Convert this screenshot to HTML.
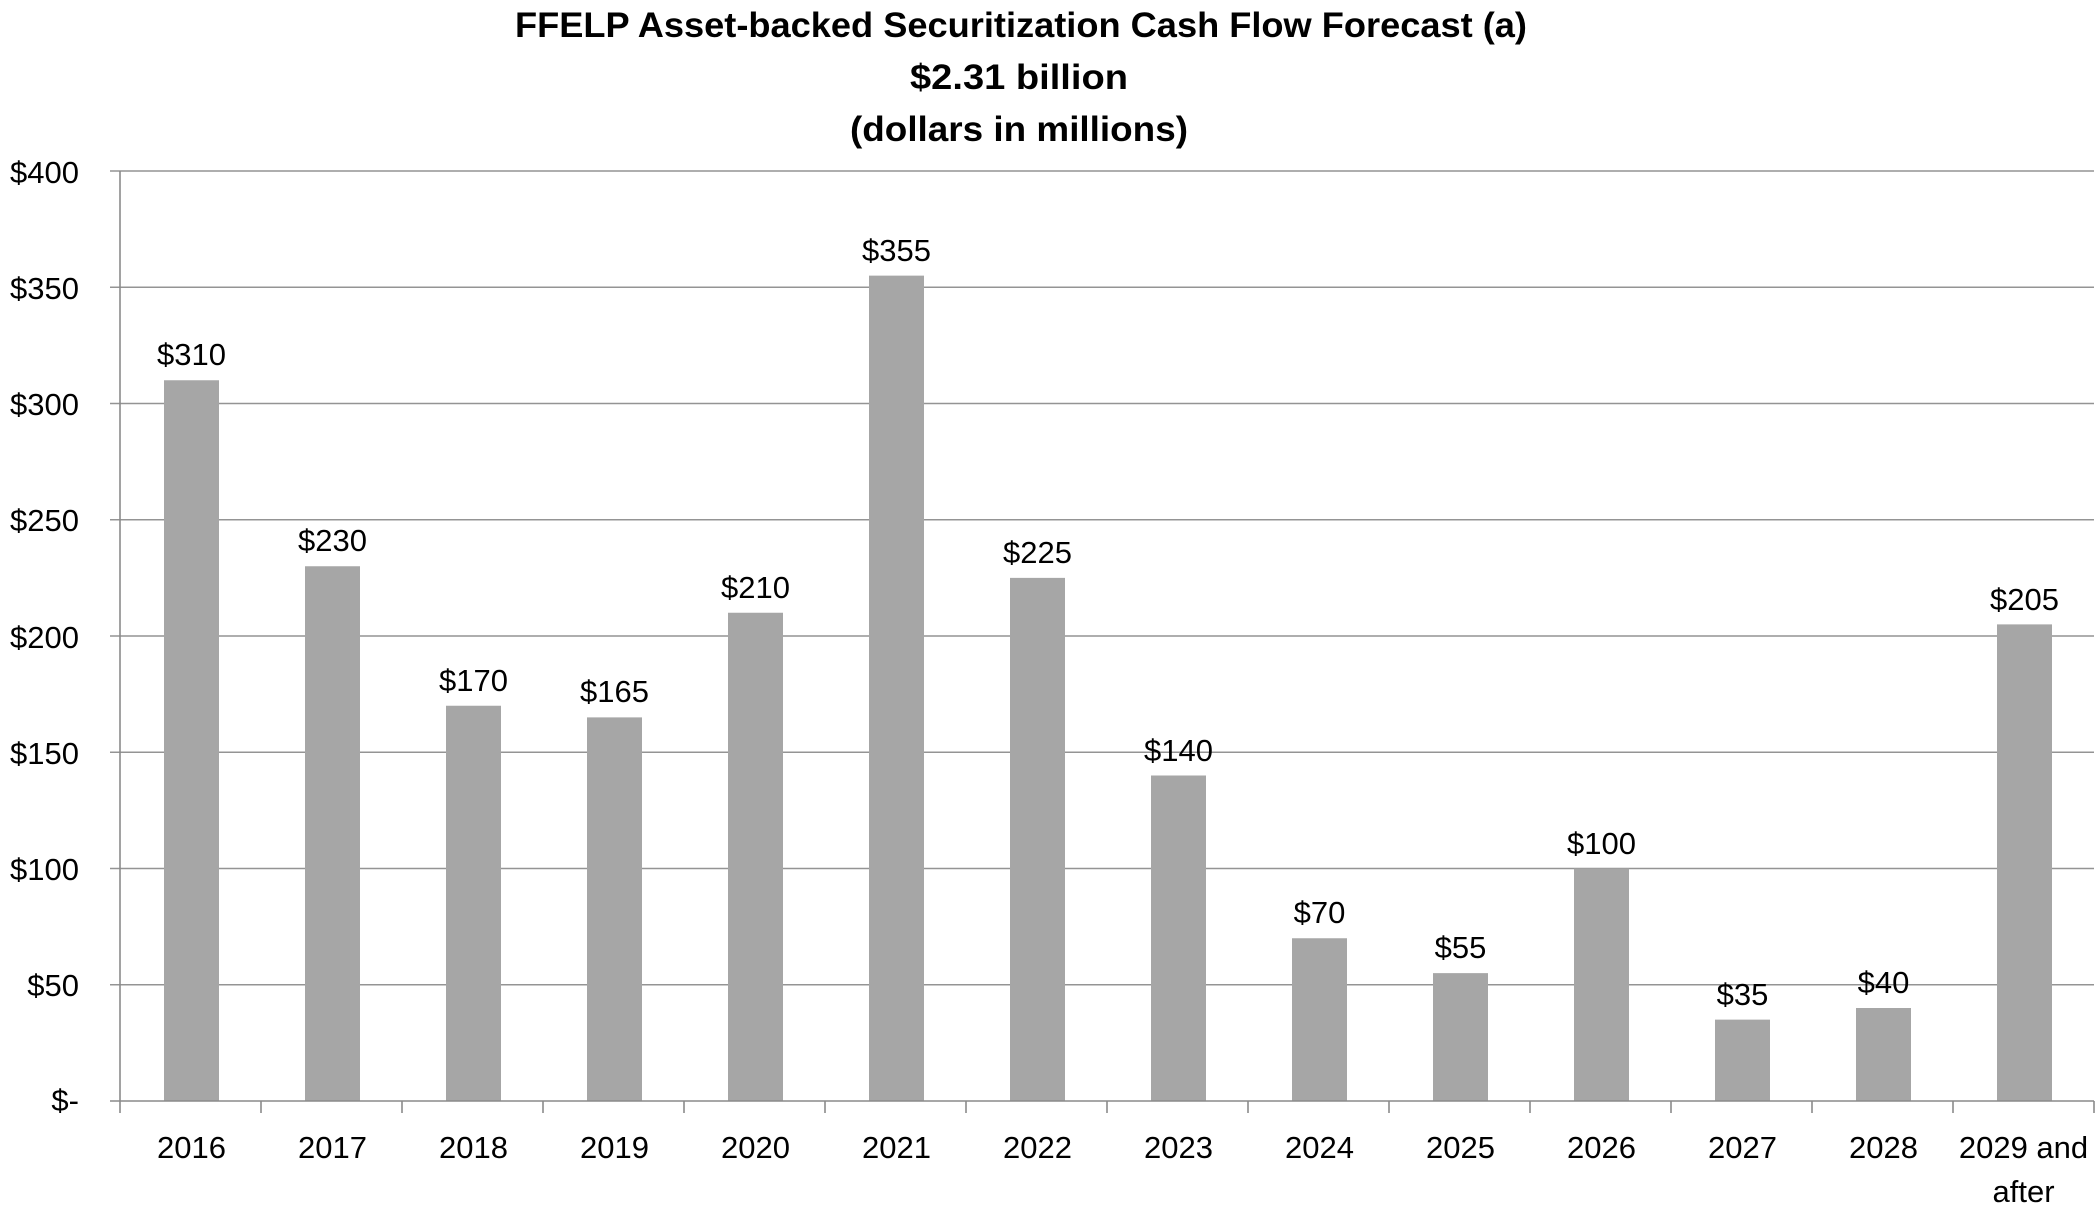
<!DOCTYPE html>
<html>
<head>
<meta charset="utf-8">
<style>
  html, body { margin:0; padding:0; background:#ffffff; }
  svg { display:block; }
</style>
</head>
<body>
<svg width="2100" height="1215" viewBox="0 0 2100 1215" xmlns="http://www.w3.org/2000/svg">
  <rect x="0" y="0" width="2100" height="1215" fill="#ffffff"/>
  <!-- Title -->
  <g font-family="'Liberation Sans', sans-serif" font-weight="bold" font-size="35" fill="#000000">
    <text x="515" y="37" textLength="1012" lengthAdjust="spacingAndGlyphs">FFELP Asset-backed Securitization Cash Flow Forecast (a)</text>
    <text x="910" y="89" textLength="218" lengthAdjust="spacingAndGlyphs">$2.31 billion</text>
    <text x="850" y="141" textLength="338" lengthAdjust="spacingAndGlyphs">(dollars in millions)</text>
  </g>

  <!-- Gridlines -->
  <g stroke="#949494" stroke-width="1.6">
    <line x1="110" y1="171" x2="2094" y2="171"/>
    <line x1="110" y1="287.25" x2="2094" y2="287.25"/>
    <line x1="110" y1="403.5" x2="2094" y2="403.5"/>
    <line x1="110" y1="519.75" x2="2094" y2="519.75"/>
    <line x1="110" y1="636" x2="2094" y2="636"/>
    <line x1="110" y1="752.25" x2="2094" y2="752.25"/>
    <line x1="110" y1="868.5" x2="2094" y2="868.5"/>
    <line x1="110" y1="984.75" x2="2094" y2="984.75"/>
  </g>

  <!-- Bars -->
  <g fill="#a6a6a6">
    <rect x="164" y="380.25" width="55" height="720.75"/>
    <rect x="305" y="566.25" width="55" height="534.75"/>
    <rect x="446" y="705.75" width="55" height="395.25"/>
    <rect x="587" y="717.375" width="55" height="383.625"/>
    <rect x="728" y="612.75" width="55" height="488.25"/>
    <rect x="869" y="275.625" width="55" height="825.375"/>
    <rect x="1010" y="577.875" width="55" height="523.125"/>
    <rect x="1151" y="775.5" width="55" height="325.5"/>
    <rect x="1292" y="938.25" width="55" height="162.75"/>
    <rect x="1433" y="973.125" width="55" height="127.875"/>
    <rect x="1574" y="868.5" width="55" height="232.5"/>
    <rect x="1715" y="1019.625" width="55" height="81.375"/>
    <rect x="1856" y="1008" width="55" height="93"/>
    <rect x="1997" y="624.375" width="55" height="476.625"/>
  </g>

  <!-- Axes -->
  <g stroke="#8a8a8a" stroke-width="1.6">
    <line x1="110" y1="1101" x2="2094" y2="1101"/>
    <line x1="120" y1="171" x2="120" y2="1113"/>
    <line x1="261" y1="1101" x2="261" y2="1113"/>
    <line x1="402" y1="1101" x2="402" y2="1113"/>
    <line x1="543" y1="1101" x2="543" y2="1113"/>
    <line x1="684" y1="1101" x2="684" y2="1113"/>
    <line x1="825" y1="1101" x2="825" y2="1113"/>
    <line x1="966" y1="1101" x2="966" y2="1113"/>
    <line x1="1107" y1="1101" x2="1107" y2="1113"/>
    <line x1="1248" y1="1101" x2="1248" y2="1113"/>
    <line x1="1389" y1="1101" x2="1389" y2="1113"/>
    <line x1="1530" y1="1101" x2="1530" y2="1113"/>
    <line x1="1671" y1="1101" x2="1671" y2="1113"/>
    <line x1="1812" y1="1101" x2="1812" y2="1113"/>
    <line x1="1953" y1="1101" x2="1953" y2="1113"/>
    <line x1="2094" y1="1101" x2="2094" y2="1113"/>
  </g>

  <!-- Y-axis labels -->
  <g font-family="'Liberation Sans', sans-serif" font-size="31" fill="#000000" text-anchor="end">
    <text x="79" y="183">$400</text>
    <text x="79" y="299">$350</text>
    <text x="79" y="415">$300</text>
    <text x="79" y="531">$250</text>
    <text x="79" y="648">$200</text>
    <text x="79" y="764">$150</text>
    <text x="79" y="880">$100</text>
    <text x="79" y="996">$50</text>
    <text x="79" y="1111">$-</text>
  </g>

  <!-- Data labels -->
  <g font-family="'Liberation Sans', sans-serif" font-size="31" fill="#000000" text-anchor="middle">
    <text x="191.5" y="365">$310</text>
    <text x="332.5" y="551">$230</text>
    <text x="473.5" y="691">$170</text>
    <text x="614.5" y="702">$165</text>
    <text x="755.5" y="598">$210</text>
    <text x="896.5" y="261">$355</text>
    <text x="1037.5" y="563">$225</text>
    <text x="1178.5" y="761">$140</text>
    <text x="1319.5" y="923">$70</text>
    <text x="1460.5" y="958">$55</text>
    <text x="1601.5" y="854">$100</text>
    <text x="1742.5" y="1005">$35</text>
    <text x="1883.5" y="993">$40</text>
    <text x="2024.5" y="610">$205</text>
  </g>

  <!-- Category labels -->
  <g font-family="'Liberation Sans', sans-serif" font-size="31" fill="#000000" text-anchor="middle">
    <text x="191.5" y="1158">2016</text>
    <text x="332.5" y="1158">2017</text>
    <text x="473.5" y="1158">2018</text>
    <text x="614.5" y="1158">2019</text>
    <text x="755.5" y="1158">2020</text>
    <text x="896.5" y="1158">2021</text>
    <text x="1037.5" y="1158">2022</text>
    <text x="1178.5" y="1158">2023</text>
    <text x="1319.5" y="1158">2024</text>
    <text x="1460.5" y="1158">2025</text>
    <text x="1601.5" y="1158">2026</text>
    <text x="1742.5" y="1158">2027</text>
    <text x="1883.5" y="1158">2028</text>
    <text x="2023.5" y="1158">2029 and</text>
    <text x="2023.5" y="1202">after</text>
  </g>
</svg>
</body>
</html>
